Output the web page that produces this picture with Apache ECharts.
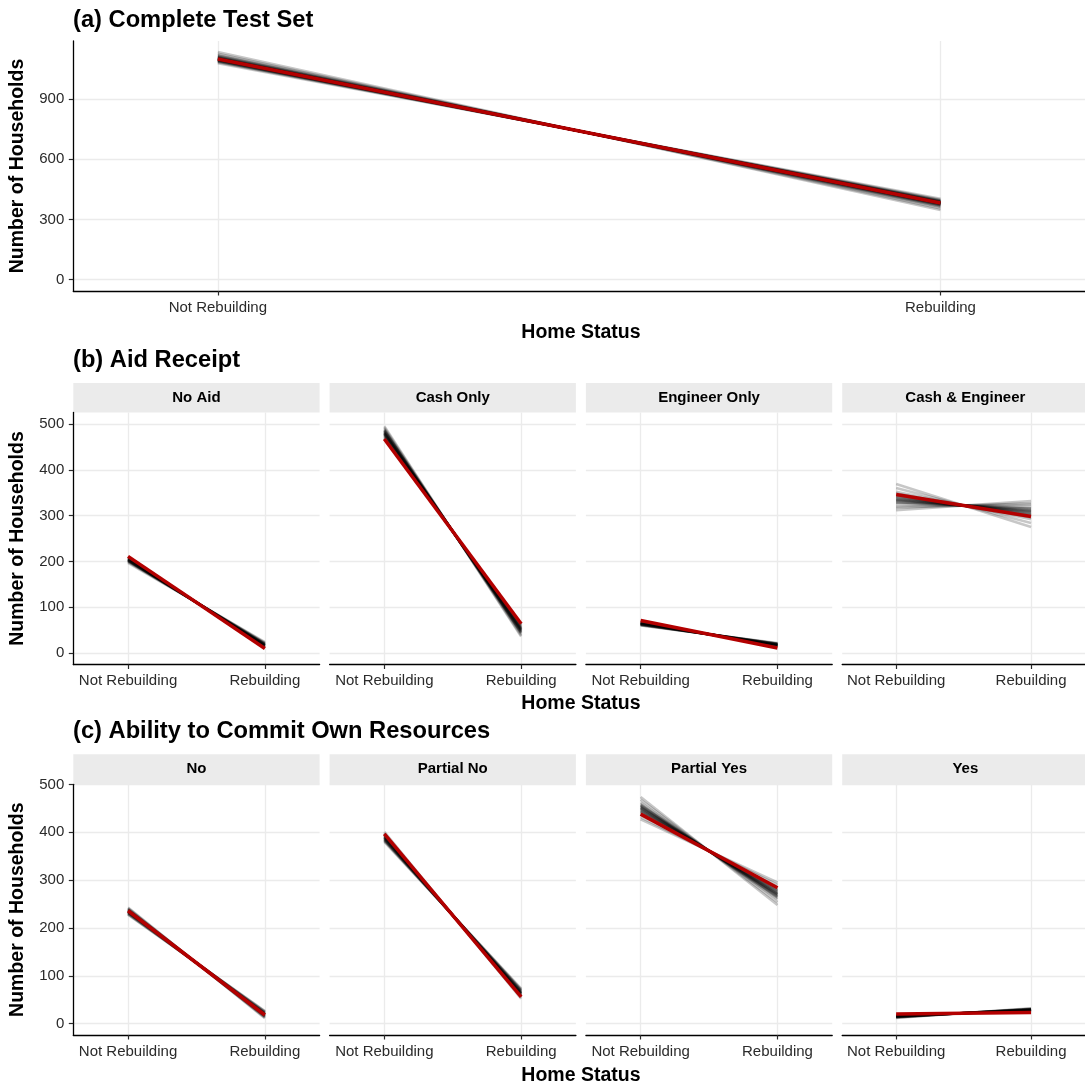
<!DOCTYPE html>
<html>
<head>
<meta charset="utf-8">
<script src="https://cdn.jsdelivr.net/npm/echarts@6/dist/echarts.min.js"></script>
<style>
  html, body { margin: 0; padding: 0; background: #ffffff; }
  #chart { width: 1085px; height: 1086px; }
</style>
</head>
<body>
<div id="chart"></div>
<script>
// ---- data -------------------------------------------------------------
const homeStatus = ['Not Rebuilding', 'Rebuilding'];

// (a) complete test set: observed counts and posterior predictive draws
const overallObserved = [1098, 382];
const overallDrawsNotRebuilding = [1098, 1092, 1104, 1089, 1101, 1095, 1108, 1097, 1090, 1103, 1100, 1094, 1112, 1087, 1099, 1106, 1093, 1101, 1082, 1118, 1096, 1102, 1091, 1109, 1077, 1125, 1098, 1085, 1114, 1133];
const overallDrawsRebuilding    = [382, 388, 376, 391, 379, 385, 372, 383, 390, 377, 380, 386, 368, 393, 381, 374, 387, 379, 398, 362, 384, 378, 389, 371, 403, 355, 382, 395, 366, 347];
const overallTicks = [0, 300, 600, 900];

// (b) aid receipt
const aidGroups = ['No Aid', 'Cash Only', 'Engineer Only', 'Cash & Engineer'];
const aidObservedNotRebuilding = [211, 467, 71, 346];
const aidObservedRebuilding    = [10, 64, 11, 298];
const aidDrawsNotRebuilding = [
  [204, 201, 207, 203, 199, 205, 210, 202, 206, 200, 204, 208, 203, 197, 205, 202, 206, 201, 204, 209],
  [480, 476, 485, 472, 489, 478, 482, 470, 487, 479, 483, 474, 492, 481, 477, 486, 468, 484, 479, 495],
  [64, 62, 66, 63, 65, 61, 67, 64, 63, 65, 62, 66, 64, 60, 65, 63, 68, 64, 62, 66],
  [336, 328, 345, 320, 352, 333, 340, 312, 360, 331, 338, 325, 348, 317, 343, 335, 369, 329, 341, 334]
];
const aidDrawsRebuilding = [
  [17, 20, 14, 18, 22, 16, 11, 19, 15, 21, 17, 13, 18, 24, 16, 19, 15, 20, 17, 12],
  [51, 55, 46, 59, 42, 53, 49, 61, 44, 52, 48, 57, 39, 50, 54, 45, 63, 47, 52, 36],
  [18, 20, 16, 19, 17, 21, 15, 18, 19, 17, 20, 16, 18, 22, 17, 19, 14, 18, 20, 16],
  [308, 316, 299, 324, 292, 311, 304, 332, 284, 313, 306, 319, 296, 327, 301, 309, 275, 315, 303, 310]
];

// (c) ability to commit own resources
const resourceGroups = ['No', 'Partial No', 'Partial Yes', 'Yes'];
const resourceObservedNotRebuilding = [236, 397, 438, 20];
const resourceObservedRebuilding    = [18, 56, 284, 23];
const resourceDrawsNotRebuilding = [
  [235, 232, 238, 230, 241, 234, 236, 228, 239, 233, 237, 231, 243, 235, 229, 238, 234, 236, 232, 240],
  [390, 386, 394, 383, 398, 389, 392, 380, 401, 388, 391, 385, 396, 387, 393, 382, 390, 395, 384, 389],
  [450, 444, 456, 438, 462, 447, 452, 432, 468, 449, 455, 441, 459, 427, 453, 446, 474, 451, 443, 457],
  [15, 14, 16, 13, 17, 15, 14, 16, 12, 15, 18, 14, 15, 13, 16, 15, 14, 17, 15, 16]
];
const resourceDrawsRebuilding = [
  [19, 22, 16, 24, 13, 20, 18, 26, 15, 21, 17, 23, 11, 19, 25, 16, 20, 18, 22, 14],
  [63, 67, 59, 70, 55, 64, 61, 73, 52, 65, 62, 68, 57, 66, 60, 71, 63, 58, 69, 64],
  [272, 278, 266, 284, 260, 275, 270, 290, 254, 273, 267, 281, 263, 295, 269, 276, 248, 271, 279, 265],
  [29, 30, 28, 31, 27, 29, 30, 28, 32, 29, 26, 30, 29, 31, 28, 29, 30, 27, 29, 28]
];
const facetTicks = [0, 100, 200, 300, 400, 500];

// ---- layout -----------------------------------------------------------
const FONT = '"Liberation Sans", Arial, Helvetica, sans-serif';
const TEXT = '#2b2b2b';
const GRID_LINE = '#ebebeb';
const OBSERVED = '#b30000';
const facetLefts = [73.3, 329.6, 585.9, 842.2];
const facetWidth = 246.3;
const plotLeft = 73.3, plotRight = 1088.5;
const plotCenterX = (plotLeft + plotRight) / 2;

const grids = [], xAxes = [], yAxes = [], series = [], graphics = [];

function addPanel(rect, xRange, yRange, ticks, showY, drawsNR, drawsR, obsNR, obsR) {
  const i = grids.length;
  grids.push({ left: rect.left, top: rect.top, width: rect.width, height: rect.height, containLabel: false });
  xAxes.push({
    type: 'value', gridIndex: i, min: xRange[0], max: xRange[1],
    axisLine: { show: true, onZero: false, lineStyle: { color: '#000', width: 1.3 } },
    axisTick: { show: true, customValues: [1, 2], length: 4.5, lineStyle: { color: TEXT, width: 1.2 } },
    axisLabel: {
      show: true, customValues: [1, 2], margin: 9, fontSize: 15, color: TEXT, fontFamily: FONT,
      formatter: v => homeStatus[Math.round(v) - 1]
    },
    splitLine: { show: true, lineStyle: { color: GRID_LINE, width: 1.3 } }
  });
  yAxes.push({
    type: 'value', gridIndex: i, min: yRange[0], max: yRange[1],
    axisLine: { show: showY, onZero: false, lineStyle: { color: '#000', width: 1.3 } },
    axisTick: { show: showY, customValues: ticks, length: 4.5, lineStyle: { color: TEXT, width: 1.2 } },
    axisLabel: { show: showY, customValues: ticks, margin: 9, fontSize: 15, color: TEXT, fontFamily: FONT },
    splitLine: { show: true, lineStyle: { color: GRID_LINE, width: 1.3 } }
  });
  series.push({
    type: 'lines', coordinateSystem: 'cartesian2d', xAxisIndex: i, yAxisIndex: i,
    silent: true, z: 2,
    lineStyle: { color: '#000000', opacity: 0.22, width: 2.6 },
    data: drawsNR.map((a, k) => ({ coords: [[1, a], [2, drawsR[k]]] }))
  });
  series.push({
    type: 'line', xAxisIndex: i, yAxisIndex: i, silent: true, z: 3,
    symbol: 'none', lineStyle: { color: OBSERVED, width: 3.5 },
    data: [[1, obsNR], [2, obsR]]
  });
}

function addText(text, x, y, size, opts) {
  graphics.push(Object.assign({
    type: 'text', x: x, y: y, silent: true,
    style: {
      text: text, font: 'bold ' + size + 'px ' + FONT, fill: '#000',
      align: (opts && opts.align) || 'center', verticalAlign: 'middle',
      textAlign: (opts && opts.align) || 'center', textVerticalAlign: 'middle'
    }
  }, opts && opts.rotation ? { rotation: opts.rotation } : {}));
}

// (a)
addPanel({ left: plotLeft, top: 41, width: plotRight - plotLeft, height: 250 },
  [0.8, 2.2], [-56, 1188], overallTicks, true,
  overallDrawsNotRebuilding, overallDrawsRebuilding, overallObserved[0], overallObserved[1]);
addText('(a) Complete Test Set', 73, 20, 23.7, { align: 'left' });
addText('Home Status', plotCenterX, 333, 19.5);
addText('Number of Households', 18, 166, 19.5, { rotation: Math.PI / 2 });

// facet rows
function addFacetRow(title, groups, obsNR, obsR, drawsNR, drawsR, rowTop, plotTop, plotHeight, yRange, titleY, xTitleY) {
  groups.forEach((g, k) => {
    addPanel({ left: facetLefts[k], top: plotTop, width: facetWidth, height: plotHeight },
      [0.6, 2.4], yRange, facetTicks, k === 0, drawsNR[k], drawsR[k], obsNR[k], obsR[k]);
    graphics.push({
      type: 'rect', silent: true,
      shape: { x: facetLefts[k], y: rowTop, width: facetWidth, height: plotTop - rowTop },
      style: { fill: '#ebebeb' }
    });
    addText(g, facetLefts[k] + facetWidth / 2, (rowTop + plotTop) / 2, 15);
  });
  addText(title, 73, titleY, 23.7, { align: 'left' });
  addText('Home Status', plotCenterX, xTitleY, 19.5);
  addText('Number of Households', 18, plotTop + plotHeight / 2, 19.5, { rotation: Math.PI / 2 });
}

addFacetRow('(b) Aid Receipt', aidGroups, aidObservedNotRebuilding, aidObservedRebuilding,
  aidDrawsNotRebuilding, aidDrawsRebuilding, 383, 412.5, 252, [-25, 525], 360, 704);
addFacetRow('(c) Ability to Commit Own Resources', resourceGroups, resourceObservedNotRebuilding, resourceObservedRebuilding,
  resourceDrawsNotRebuilding, resourceDrawsRebuilding, 754.3, 784.3, 250.7, [-23.8, 500.4], 731, 1076);

const chart = echarts.init(document.getElementById('chart'), null, { renderer: 'canvas' });
chart.setOption({
  animation: false,
  backgroundColor: '#ffffff',
  grid: grids,
  xAxis: xAxes,
  yAxis: yAxes,
  series: series,
  graphic: { elements: graphics }
});
</script>
</body>
</html>
